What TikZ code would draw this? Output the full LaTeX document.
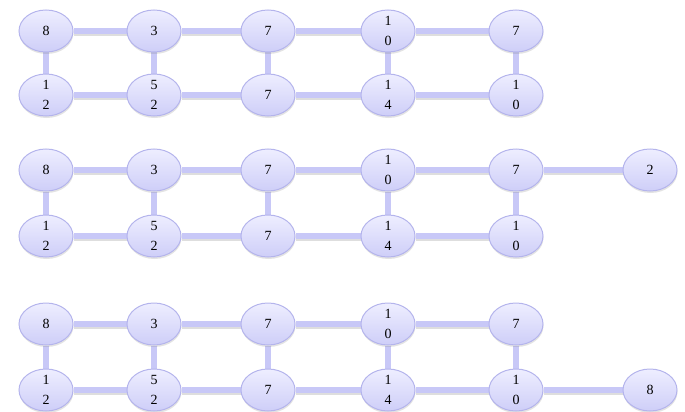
\documentclass[tikz,border=0pt]{standalone}
\usepackage{fontspec}
\setmainfont{Liberation Serif}
\usetikzlibrary{shapes.geometric,shadows,backgrounds}
\definecolor{edgecol}{RGB}{200,200,247}
\definecolor{nodeborder}{RGB}{180,180,236}
\definecolor{nodetop}{RGB}{238,238,255}
\definecolor{nodebot}{RGB}{206,206,248}

\begin{document}
\begin{tikzpicture}[x=1pt,y=-1pt,
  vnode/.style={ellipse, draw=nodeborder, line width=1pt,
    top color=nodetop, bottom color=nodebot,
    minimum width=54pt, minimum height=42pt, inner sep=0pt,
    align=center, font=\fontsize{14}{20}\selectfont,
    drop shadow={opacity=0.22, shadow xshift=0.5pt, shadow yshift=-2pt}},
  link/.style={draw=edgecol, line width=6pt,
    preaction={draw=black, opacity=0.13, line width=6pt,
      transform canvas={yshift=-2pt}}}]
\useasboundingbox (0,0) rectangle (685,412);

% three copies of the same two-row chain
\foreach \g/\yt/\yb in {1/31/95, 2/170/236, 3/324/390} {
  \foreach \c/\x/\t/\b in {1/46/8/{1\\2}, 2/154/3/{5\\2}, 3/268/7/7,
                           4/388/{1\\0}/{1\\4}, 5/516/7/{1\\0}} {
    \node[vnode] (t\g\c) at (\x,\yt) {\t};
    \node[vnode] (b\g\c) at (\x,\yb) {\b};
  }
}
% extra nodes
\node[vnode] (t26) at (650,170) {2};
\node[vnode] (b36) at (650,390) {8};

\begin{scope}[on background layer]
  \foreach \g in {1,2,3} {
    \foreach \p/\q in {1/2,2/3,3/4,4/5} {
      \path[link] (t\g\p) -- (t\g\q);
      \path[link] (b\g\p) -- (b\g\q);
    }
    \foreach \c in {1,...,5} {
      \path[link] (t\g\c) -- (b\g\c);
    }
  }
  \path[link] (t25) -- (t26);
  \path[link] (b35) -- (b36);
\end{scope}
\end{tikzpicture}
\end{document}
